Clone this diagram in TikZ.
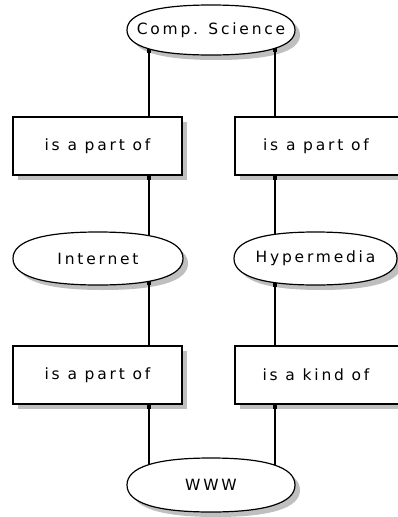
\documentclass[tikz,border=0pt]{standalone}
\usepackage{fontspec}
\setmainfont{DejaVu Sans}[LetterSpace=18]
\usetikzlibrary{shadows,arrows.meta,intersections}

% unit outline of a concept oval, a little fuller than an ellipse
\def\ovalunit{(1,0) .. controls (1,0.66) and (0.66,1) .. (0,1)
  .. controls (-0.66,1) and (-1,0.66) .. (-1,0)
  .. controls (-1,-0.66) and (-0.66,-1) .. (0,-1)
  .. controls (0.66,-1) and (1,-0.66) .. (1,0) -- cycle}

\begin{document}
\begin{tikzpicture}[x=1pt,y=-1pt,
  label font/.style={font=\fontsize{15.5}{18}\selectfont},
  rim/.style={line width=1.2pt},
  shade gray/.style={drop shadow={shadow xshift=5pt,shadow yshift=-5pt,fill=black!25,opacity=1}},
  relation/.style={rectangle,draw,rim,fill=white,inner sep=0pt,label font,shade gray,
    minimum width=169pt,minimum height=58pt},
  link/.style={line width=1.2pt,-{Square[length=4pt,width=4pt]}}]
\useasboundingbox (0,0) rectangle (398,517);

% concept ovals: shadow, then outline
\foreach \nm/\cx/\cy/\a/\b in {cs/211/30/84/25, inet/98/258.5/85/26.5,
    hyp/315.5/258.5/81.5/26.5, www/211/485/84/27}{
  \fill[black!25,shift={(\cx+5,\cy+5)},xscale=\a,yscale=\b] \ovalunit;
  \draw[rim,fill=white,name path global=\nm-rim,shift={(\cx,\cy)},xscale=\a,yscale=\b] \ovalunit;
}

% concept labels
\node[label font] (cs)   at (211,30)      {Comp. Science};
\node[label font] (inet) at (98,258.5)    {Internet};
\node[label font] (hyp)  at (315.5,258.5) {Hypermedia};
\node[label font] (www)  at (211,485)     {WWW};

% relations
\node[relation] (r1) at (97.5,146)  {is a part of};
\node[relation] (r2) at (319.5,146) {\hspace*{-7pt}is a part of};
\node[relation] (r3) at (97.5,375)  {is a part of};
\node[relation] (r4) at (319.5,375) {\hspace*{-7pt}is a kind of};

% where the two vertical links meet the ovals
\path[name path=left]  (149,0) -- (149,517);
\path[name path=right] (275,0) -- (275,517);
\path[name intersections={of=cs-rim and left,sort by=left,by={csLt,csLb}}];
\path[name intersections={of=cs-rim and right,sort by=right,by={csRt,csRb}}];
\path[name intersections={of=inet-rim and left,sort by=left,by={inT,inB}}];
\path[name intersections={of=hyp-rim and right,sort by=right,by={hyT,hyB}}];
\path[name intersections={of=www-rim and left,sort by=left,by={wwL,wwLb}}];
\path[name intersections={of=www-rim and right,sort by=right,by={wwR,wwRb}}];

% left chain
\draw[link] (wwL) -- (r3.south -| wwL);
\draw[link] (r3.north -| inB) -- (inB);
\draw[link] (inT) -- (r1.south -| inT);
\draw[link] (r1.north -| csLb) -- (csLb);

% right chain
\draw[link] (wwR) -- (r4.south -| wwR);
\draw[link] (r4.north -| hyB) -- (hyB);
\draw[link] (hyT) -- (r2.south -| hyT);
\draw[link] (r2.north -| csRb) -- (csRb);
\end{tikzpicture}
\end{document}
